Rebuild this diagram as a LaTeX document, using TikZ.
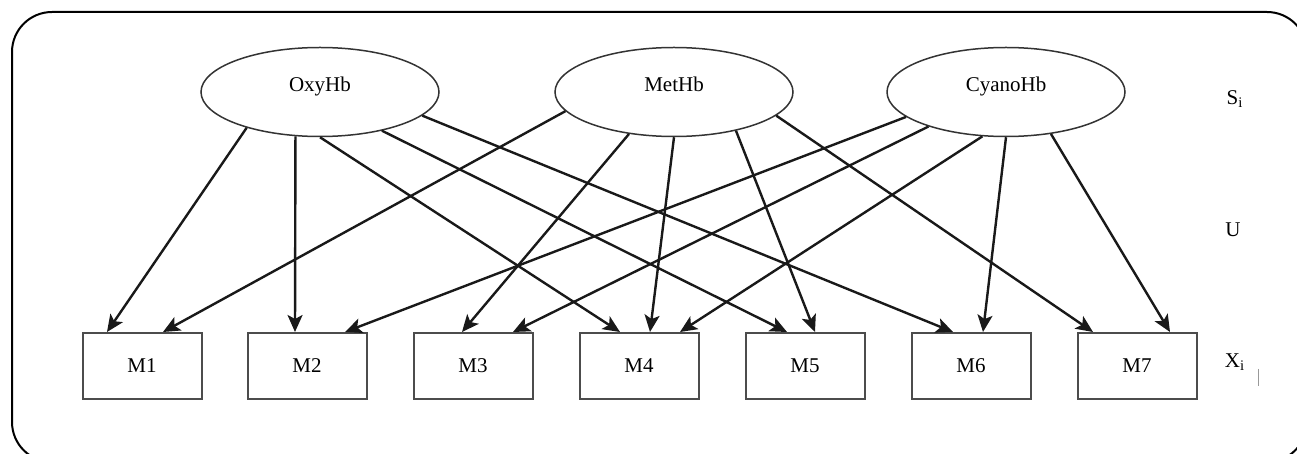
\documentclass[tikz,border=0pt]{standalone}
\usepackage{fontspec}
\setmainfont{Liberation Serif}
\usetikzlibrary{arrows.meta,shapes.geometric}

\tikzset{
	hbnode/.style={ellipse, draw=black!80, line width=0.75pt, minimum width=119pt,
		minimum height=44.5pt, inner sep=0pt, text height=7pt, text depth=7pt},
	mbox/.style={rectangle, draw=black!70, line width=1pt, minimum width=59.5pt,
		minimum height=33pt, inner sep=0pt},
	link/.style={-{Stealth[length=8.5pt,width=7.5pt,inset=2pt]}, line width=1.2pt, draw=black!90},
}

\begin{document}
\begin{tikzpicture}[x=0.5pt, y=-0.5pt, font=\fontsize{10.5}{12}\selectfont]
	\useasboundingbox (0,0) rectangle (1297,454);
	\clip (0,0) rectangle (1297,454);
	
		\draw[line width=1pt, rounded corners=20pt] (12,12) rectangle (1307,462); % Рамка
	
		\node[hbnode] (oxy) at (320,92) {OxyHb};
		\node[hbnode] (met) at (674,92) {MetHb};
		\node[hbnode] (cyano) at (1006,92) {CyanoHb};
		
		\foreach \n/\x in {1/142, 2/307, 3/473, 4/639, 5/805, 6/971, 7/1137}
			\node[mbox] (m\n) at (\x,366) {M\n};
		
		% OxyHb
		\draw[link] (oxy.-154) -- ([xshift=-17.5pt]m1.north);
		\draw[link] (oxy.-119.6) -- ([xshift=-6pt]m2.north);
		\draw[link] (oxy.south) -- ([xshift=-9.5pt]m4.north);
		\draw[link] (oxy.-32) -- ([xshift=-9pt]m5.north);
		\draw[link] (oxy.-13) -- ([xshift=-9pt]m6.north);
		
		% MetHb
		\draw[link] (met.-170) -- ([xshift=10.5pt]m1.north);
		\draw[link] (met.-137) -- ([xshift=-5.5pt]m3.north);
		\draw[link] (met.south) -- ([xshift=5.5pt]m4.north);
		\draw[link] (met.-32) -- ([xshift=5pt]m5.north);
		\draw[link] (met.-13) -- ([xshift=-22pt]m7.north);
		
		% CyanoHb
		\draw[link] (cyano.-166.4) -- ([xshift=19pt]m2.north);
		\draw[link] (cyano.-156.7) -- ([xshift=20pt]m3.north);
		\draw[link] (cyano.-118.6) -- ([xshift=20.5pt]m4.north);
		\draw[link] (cyano.south) -- ([xshift=6pt]m6.north);
		\draw[link] (cyano.-43) -- ([xshift=16.5pt]m7.north);
	
		\node (si) at (1235,99) {S\textsubscript{i}};
		\node (u) at (1233,230) {U};
		\node (xi) at (1235,362) {X\textsubscript{i}};
		\draw[black!40, line width=0.4pt] (1258,369) -- (1258,386);
	\end{tikzpicture}
\end{document}
